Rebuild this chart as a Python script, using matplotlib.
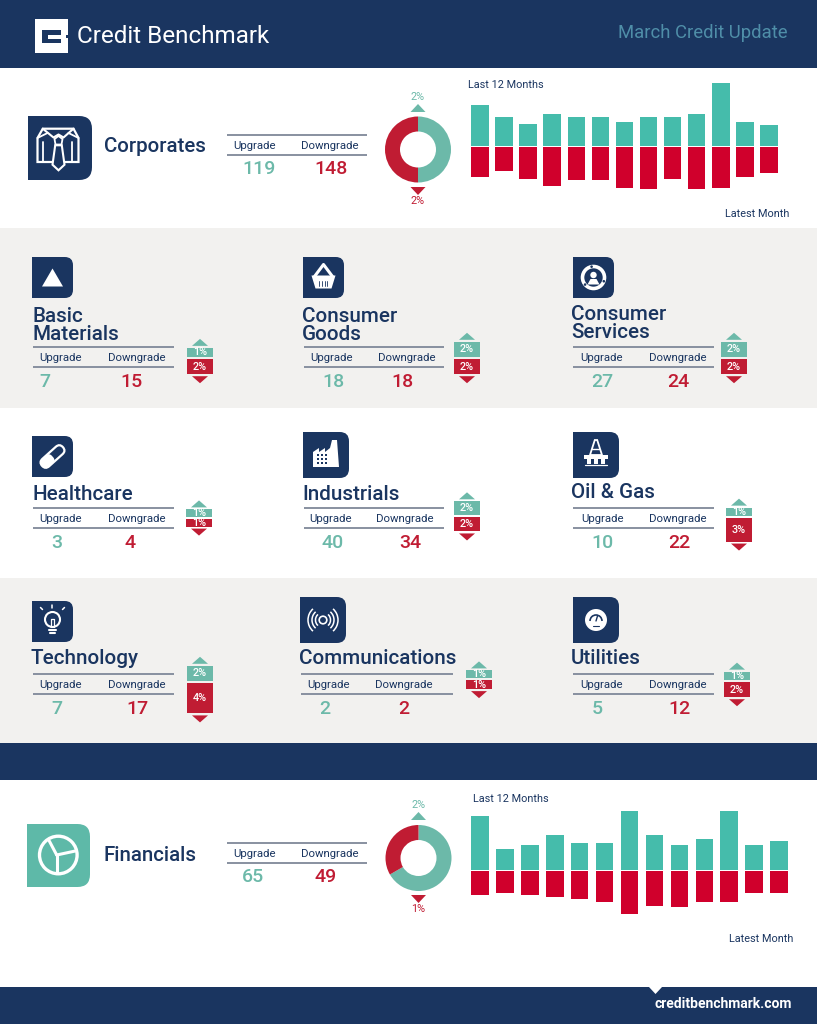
import matplotlib
matplotlib.use("Agg")
import matplotlib.pyplot as plt
from matplotlib.patches import Rectangle, Polygon, Circle, PathPatch, Arc, FancyBboxPatch
from matplotlib.path import Path
from matplotlib.transforms import Affine2D
import numpy as np

plt.rcParams['font.family'] = ['Roboto', 'DejaVu Sans']

NAVY = "#1a3560"
TEAL = "#45bcab"
TEAL_SOFT = "#6cb9a9"
TEAL_ICON = "#5eb9a8"
RED = "#d0002c"
RED_SOFT = "#c01c33"
GRAY = "#f2f1ef"
RULE = "#7f8899"
W, H = 817, 1024

# monthly counts, oldest to latest
corp_up = [238, 170, 128, 186, 170, 170, 139, 170, 170, 186, 364, 139, 119]
corp_down = [170, 139, 184, 222, 191, 191, 234, 244, 184, 244, 234, 170, 148]
fin_up = [121, 48, 57, 78, 61, 61, 133, 78, 57, 69, 133, 57, 65]
fin_down = [53, 49, 53, 57, 61, 69, 95, 77, 81, 69, 69, 49, 49]

corp_share = [2, 2]
fin_share = [2, 1]

# sectors
sector_names = ["Basic\nMaterials", "Consumer\nGoods", "Consumer\nServices",
                "Healthcare", "Industrials", "Oil & Gas",
                "Technology", "Communications", "Utilities"]
sector_up = [7, 18, 27, 3, 40, 10, 7, 2, 5]
sector_down = [15, 18, 24, 4, 34, 22, 17, 2, 12]
sector_up_pct = [1.2, 2.0, 2.0, 1.0, 1.8, 1.1, 2.0, 1.0, 1.1]
sector_down_pct = [2.0, 2.0, 2.0, 1.0, 1.9, 3.1, 4.0, 1.2, 2.0]
sector_up_text = ["1%", "2%", "2%", "1%", "2%", "1%", "2%", "1%", "1%"]
sector_down_text = ["2%", "2%", "2%", "1%", "2%", "3%", "4%", "1%", "2%"]

# card layout, in pixels of the page
icon_x = [32, 303, 573, 32, 303, 573, 32, 300, 573]
icon_y = [257, 257, 257, 436, 432, 432, 601, 597, 597]
icon_s = [41, 41, 41, 41, 46, 46, 41, 46, 46]
title_x = [32, 302, 571, 32, 302, 571, 31, 299, 571]
title_y = [333, 333, 332, 493, 493, 492, 658, 658, 657]
rule_x0 = [33, 304, 573, 33, 304, 573, 33, 301, 573]
rule_x1 = [174, 444, 714, 174, 444, 714, 174, 453, 714]
rule_y = [347, 347, 347, 508, 508, 508, 674, 674, 674]
label_up_x = [61, 332, 602, 61, 331, 603, 61, 329, 602]
label_down_x = [137, 407, 678, 137, 405, 678, 137, 404, 678]
value_up_x = [45, 333, 602, 57, 333, 603, 57, 325, 597]
value_down_x = [132, 402, 678, 130, 410, 679, 137, 404, 680]
strip_x = [200, 467, 734, 199, 467, 739, 200, 479, 737]
strip_y = [358, 358, 358, 518, 516, 517, 682, 679, 681]

PX_PER_PCT = 7.6


def px_axes(x0, y0, x1, y1, **kw):
    a = fig.add_axes([x0 / W, 1 - y1 / H, (x1 - x0) / W, (y1 - y0) / H], **kw)
    a.axis("off")
    a.patch.set_alpha(0)
    return a


def tri(cx, y_base, y_tip, half, color):
    page.add_patch(Polygon([(cx - half, y_base), (cx + half, y_base), (cx, y_tip)],
                           closed=True, fc=color, ec="none", zorder=4))


def icon_box(x, y, s, color=NAVY):
    r = s * 0.2
    verts = [(x, y), (x + s - r, y), (x + s, y), (x + s, y + r),
             (x + s, y + s - r), (x + s, y + s), (x + s - r, y + s),
             (x, y + s), (x, y)]
    codes = [Path.MOVETO, Path.LINETO, Path.CURVE3, Path.CURVE3,
             Path.LINETO, Path.CURVE3, Path.CURVE3, Path.LINETO, Path.CLOSEPOLY]
    page.add_patch(PathPatch(Path(verts, codes), fc=color, ec="none", zorder=2))


def poly(pts, cx=0, cy=0, fc="white", ec="none", lw=0, fill=True):
    pts = [(cx + a, cy + b) for a, b in pts]
    page.add_patch(Polygon(pts, closed=True, fc=fc if fill else "none", ec=ec, lw=lw, zorder=3))


def line(xs, ys, cx=0, cy=0, lw=1.0, color="white"):
    page.plot([cx + v for v in xs], [cy + v for v in ys], color=color, lw=lw,
              solid_capstyle="round", zorder=3)


def rule(x0, x1, y):
    page.plot([x0, x1], [y, y], color=RULE, lw=1.3, solid_capstyle="butt", zorder=3)


def icon_triangle(cx, cy):
    poly([(-10.5, 8), (10.5, 8), (0, -10)], cx, cy + 1)


def icon_basket(cx, cy):
    poly([(-12, -2), (12, -2), (8, 11), (-8, 11)], cx, cy)
    line([-9, 0, 9], [-1, -13, -1], cx, cy, lw=2.2)
    for dx in (-4, -1.3, 1.3, 4):
        line([dx, dx], [3, 8], cx, cy, lw=0.6, color=NAVY)


def icon_services(cx, cy):
    page.add_patch(Circle((cx, cy), 11, fc="none", ec="white", lw=2.6, zorder=3))
    page.add_patch(Circle((cx, cy - 2.5), 3.2, fc="white", ec="none", zorder=3))
    poly([(-6, 7), (6, 7), (3, 1.5), (-3, 1.5)], cx, cy)
    for ang in (20, 140, 260):
        a = np.radians(ang)
        page.add_patch(Circle((cx + 11 * np.cos(a), cy + 11 * np.sin(a)), 1.3,
                              fc=NAVY, ec="none", zorder=3))


def icon_pill(cx, cy):
    rot = Affine2D().rotate_deg_around(cx, cy, -42) + page.transData
    page.add_patch(FancyBboxPatch((cx - 14, cy - 5), 28, 10, boxstyle="round,pad=0,rounding_size=5",
                                  fc="none", ec="white", lw=1.6, zorder=3, transform=rot))
    page.add_patch(FancyBboxPatch((cx - 14, cy - 5), 14, 10, boxstyle="round,pad=0,rounding_size=4",
                                  fc="white", ec="none", zorder=3, transform=rot))


def icon_factory(cx, cy):
    poly([(-13, 12), (-13, -3), (-7, -7), (-7, -3), (-1, -7), (-1, -3), (4, -7), (6, -15),
          (11, -15), (13, 12)], cx, cy)
    for i in (-8, -4, 0):
        for j in (0, 4, 8):
            page.add_patch(Rectangle((cx + i - 1, cy + j - 1), 2, 2, fc=NAVY, ec="none", zorder=3))


def icon_oil(cx, cy):
    poly([(-1.2, -15), (1.2, -15), (6, 0), (-6, 0)], cx, cy, fill=False, ec="white", lw=1.3)
    line([-3.5, 3.5], [-6, -6], cx, cy, lw=1.0)
    poly([(-12, 0), (12, 0), (12, 3.5), (-12, 3.5)], cx, cy)
    for dx in (-7, 0, 7):
        poly([(dx - 1.6, 3.5), (dx + 1.6, 3.5), (dx + 1.6, 8.5), (dx - 1.6, 8.5)], cx, cy)
    line([-11, 11], [10, 10], cx, cy, lw=0.9)


def icon_bulb(cx, cy):
    page.add_patch(Circle((cx, cy - 2), 7.5, fc="none", ec="white", lw=1.5, zorder=3))
    line([-3.5, 3.5], [8, 8], cx, cy, lw=1.5)
    line([-2.5, 2.5], [11, 11], cx, cy, lw=1.5)
    line([-1.5, -1.5, 1.5, 1.5], [5, -3, -3, 5], cx, cy, lw=0.9)
    line([-12, -10], [-14, -12], cx, cy, lw=1.1)
    line([0, 0], [-17, -14], cx, cy, lw=1.1)
    line([12, 10], [-14, -12], cx, cy, lw=1.1)


def icon_signal(cx, cy):
    page.add_patch(Circle((cx, cy), 3.8, fc="none", ec="white", lw=1.2, zorder=3))
    for r in (7.5, 11, 15):
        page.add_patch(Arc((cx, cy), 2 * r, 2 * r, theta1=-48, theta2=48, ec="white", lw=1.1, zorder=3))
        page.add_patch(Arc((cx, cy), 2 * r, 2 * r, theta1=132, theta2=228, ec="white", lw=1.1, zorder=3))


def icon_gauge(cx, cy):
    page.add_patch(Circle((cx, cy), 11, fc="white", ec="none", zorder=3))
    page.add_patch(Arc((cx, cy + 1), 12, 12, theta1=180, theta2=360, ec=NAVY, lw=1.2, zorder=3))
    line([0, 1.5], [1, -4], cx, cy, lw=1.0, color=NAVY)
    line([-3, 3], [6, 6], cx, cy, lw=0.8, color=NAVY)


def icon_shirt(cx, cy):
    poly([(-15.7, -19.3), (15, -19.3), (20, -10), (20, 14), (5, 14), (-5, 14), (-21, 14), (-21, -10)],
         cx, cy, fill=False, ec="white", lw=1.6)
    poly([(-3.3, -2.7), (3.3, -2.7), (6, 16.7), (0, 22.3), (-6, 16.7)], cx, cy, fc=NAVY, ec="white", lw=1.5)
    line([-15.7, -5, 0, 5, 15], [-19.3, -10.5, -13.5, -10.5, -19.3], cx, cy, lw=1.5)
    poly([(-4, -9), (0, -12), (4, -9), (3, -3.5), (-3, -3.5)], cx, cy, fc=NAVY, ec="white", lw=1.3)
    line([-21, -11], [-10, -15], cx, cy, lw=1.3)
    line([20, 10], [-10, -15], cx, cy, lw=1.3)
    line([-15, -15], [-6, 14], cx, cy, lw=1.3)
    line([14, 14], [-6, 14], cx, cy, lw=1.3)


def icon_wheel(cx, cy):
    page.add_patch(Circle((cx, cy), 18.8, fc="none", ec="white", lw=2.4, zorder=3))
    line([-1.6, -9], [0, -14], cx, cy, lw=2.2)
    line([-1.6, 17], [0, -4], cx, cy, lw=2.2)
    line([-1.6, -1.6], [0, 18], cx, cy, lw=2.2)


def big_row(top_rule, up_count, down_count, up_x, down_x):
    rule(227, 367, top_rule)
    rule(227, 367, top_rule + 20)
    page.text(255, top_rule + 11, "Upgrade", fontsize=8.2, color=NAVY, ha="center", va="center")
    page.text(330, top_rule + 11, "Downgrade", fontsize=8.2, color=NAVY, ha="center", va="center")
    page.text(up_x, top_rule + 34, str(up_count), fontsize=14, color=TEAL_SOFT, ha="center", va="center", fontweight="medium")
    page.text(down_x, top_rule + 34, str(down_count), fontsize=14, color=RED_SOFT, ha="center", va="center", fontweight="medium")


def draw_bars(x0, x1, baseline, up, down, per_px):
    # x0, x1 are the centres of the first and last bar
    step = (x1 - x0) / (len(up) - 1)
    top, bottom = baseline - 70, baseline + 60
    a = px_axes(x0 - step / 2, top, x1 + step / 2, bottom)
    a.set_xlim(-0.5, len(up) - 0.5)
    a.set_ylim((baseline - bottom) * per_px, (baseline - top) * per_px)
    x = np.arange(len(up))
    w = 17.5 / step
    a.bar(x, up, width=w, color=TEAL)
    a.bar(x, [-v for v in down], bottom=-1.4 * per_px, width=w, color=RED)


def draw_donut(cx, cy, share):
    a = px_axes(cx - 34, cy - 34, cx + 34, cy + 34)
    a.pie(share, colors=[TEAL_SOFT, RED_SOFT], startangle=90, counterclock=False, radius=33 / 34,
          wedgeprops={"width": 15 / 34, "linewidth": 0})
    a.set_xlim(-1, 1)
    a.set_ylim(-1, 1)


def draw_strip(cx, mid, up_pct, down_pct, up_text, down_text):
    a = px_axes(cx - 13, mid - 40, cx + 13, mid + 40)
    a.set_xlim(-0.5, 0.5)
    a.set_ylim(-40 / PX_PER_PCT, 40 / PX_PER_PCT)
    gap = 1.0 / PX_PER_PCT
    a.bar([0], [up_pct], bottom=gap, width=1, color=TEAL_SOFT)
    a.bar([0], [-down_pct], bottom=-gap, width=1, color=RED_SOFT)
    a.text(0, gap + up_pct / 2, up_text, color="white", fontsize=7.8, ha="center", va="center", fontweight="medium")
    a.text(0, -gap - down_pct / 2, down_text, color="white", fontsize=7.8, ha="center", va="center", fontweight="medium")
    top = mid - 1 - up_pct * PX_PER_PCT
    bot = mid + 1 + down_pct * PX_PER_PCT
    tri(cx, top - 2, top - 9, 8, TEAL_SOFT)
    tri(cx, bot + 2, bot + 9, 8, RED_SOFT)


fig = plt.figure(figsize=(W / 100, H / 100), dpi=100, facecolor="white")
page = fig.add_axes([0, 0, 1, 1])
page.set_xlim(0, W)
page.set_ylim(H, 0)
page.axis("off")

# bands
page.add_patch(Rectangle((0, 0), W, 68, fc=NAVY, ec="none"))
page.add_patch(Rectangle((0, 228), W, 180, fc=GRAY, ec="none"))
page.add_patch(Rectangle((0, 578), W, 165, fc=GRAY, ec="none"))
page.add_patch(Rectangle((0, 743), W, 37, fc=NAVY, ec="none"))
page.add_patch(Rectangle((0, 987), W, 37, fc=NAVY, ec="none"))
poly([(649, 987), (662, 987), (655.5, 994)])

# header
page.add_patch(Rectangle((35, 19), 33, 33.5, fc="white", ec="none"))
poly([(42, 30), (61, 30), (61, 34.5), (48, 34.5), (48, 38.5), (61, 38.5), (61, 43), (42, 43)], fc=NAVY)
poly([(66, 34.5), (68, 34.5), (68, 37.5), (66, 37.5)], fc=NAVY)
page.text(77, 36.5, "Credit Benchmark", fontsize=17.5, color="white", va="center", ha="left")
page.text(788, 33, "March Credit Update", fontsize=13.3, color="#4f8ea8", va="center", ha="right")

# corporates
icon_box(28, 116, 64)
icon_shirt(58.5, 148)
page.text(104, 147, "Corporates", fontsize=14.8, color=NAVY, va="center", fontweight="medium")
big_row(135, 119, 148, 259, 331)
draw_donut(418, 149.5, corp_share)
tri(418, 112, 104, 7.5, TEAL_SOFT)
tri(418, 187, 195, 7.5, RED_SOFT)
page.text(418, 96.5, "2%", fontsize=7.8, color=TEAL_SOFT, ha="center", va="center")
page.text(418, 201.5, "2%", fontsize=7.8, color=RED_SOFT, ha="center", va="center")
draw_bars(480, 769, 146, corp_up, corp_down, 5.8)
page.text(468, 85.5, "Last 12 Months", fontsize=7.8, color=NAVY, va="center")
page.text(789, 214, "Latest Month", fontsize=7.8, color=NAVY, va="center", ha="right")

# sector cards
icons = [icon_triangle, icon_basket, icon_services, icon_pill, icon_factory,
         icon_oil, icon_bulb, icon_signal, icon_gauge]
for i, name in enumerate(sector_names):
    s = icon_s[i]
    icon_box(icon_x[i], icon_y[i], s)
    icons[i](icon_x[i] + s / 2, icon_y[i] + s / 2)
    lines = name.split("\n")
    for j, part in enumerate(lines):
        y = title_y[i] + 1 - 18 * (len(lines) - 1 - j)
        page.text(title_x[i], y, part, fontsize=14.9, color=NAVY, va="center", fontweight="medium")
    r = rule_y[i]
    rule(rule_x0[i], rule_x1[i], r)
    rule(rule_x0[i], rule_x1[i], r + 20)
    page.text(label_up_x[i], r + 11, "Upgrade", fontsize=8.2, color=NAVY, ha="center", va="center")
    page.text(label_down_x[i], r + 11, "Downgrade", fontsize=8.2, color=NAVY, ha="center", va="center")
    page.text(value_up_x[i], r + 35, str(sector_up[i]), fontsize=14, color=TEAL_SOFT, ha="center", va="center", fontweight="medium")
    page.text(value_down_x[i], r + 35, str(sector_down[i]), fontsize=14, color=RED_SOFT, ha="center", va="center", fontweight="medium")
    draw_strip(strip_x[i], strip_y[i], sector_up_pct[i], sector_down_pct[i],
               sector_up_text[i], sector_down_text[i])

# financials
icon_box(27, 824, 63, TEAL_ICON)
icon_wheel(58.3, 855)
page.text(104, 855.5, "Financials", fontsize=14.8, color=NAVY, va="center", fontweight="medium")
big_row(843, 65, 49, 253, 326)
draw_donut(418.5, 858, fin_share)
tri(418.5, 820, 812, 7.5, TEAL_SOFT)
tri(418.5, 895, 903, 7.5, RED_SOFT)
page.text(418.5, 804.5, "2%", fontsize=7.8, color=TEAL_SOFT, ha="center", va="center")
page.text(418.5, 909.5, "1%", fontsize=7.8, color=RED_SOFT, ha="center", va="center")
draw_bars(480, 779, 870, fin_up, fin_down, 2.25)
page.text(473, 799.5, "Last 12 Months", fontsize=7.8, color=NAVY, va="center")
page.text(793, 939, "Latest Month", fontsize=7.8, color=NAVY, va="center", ha="right")

# footer
page.text(792, 1004.5, "creditbenchmark.com", fontsize=10, color="white", va="center", ha="right", fontweight="bold")

fig.savefig("out.png", dpi=100, facecolor="white")
